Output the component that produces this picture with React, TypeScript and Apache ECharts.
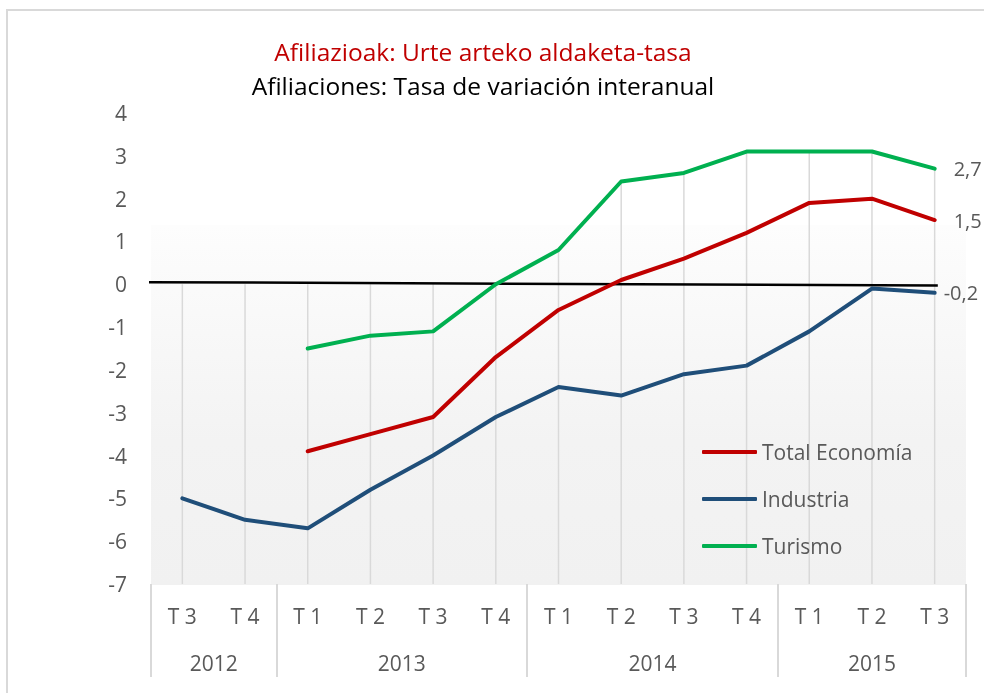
import React, { useEffect, useRef } from "react";
import * as echarts from "echarts";

const quarterLabels = ["T 3", "T 4", "T 1", "T 2", "T 3", "T 4", "T 1", "T 2", "T 3", "T 4", "T 1", "T 2", "T 3"];
const years = ["2012", "2013", "2014", "2015"];
const quartersPerYear = [2, 4, 4, 3];

const totalEconomia: (number | null)[] = [null, null, -3.9, -3.5, -3.1, -1.7, -0.6, 0.1, 0.6, 1.2, 1.9, 2.0, 1.5];
const industria: (number | null)[] = [-5.0, -5.5, -5.7, -4.8, -4.0, -3.1, -2.4, -2.6, -2.1, -1.9, -1.1, -0.1, -0.2];
const turismo: (number | null)[] = [null, null, -1.5, -1.2, -1.1, 0.0, 0.8, 2.4, 2.6, 3.1, 3.1, 3.1, 2.7];
const zeroLine: [number, number][] = [[-0.12, 0.05], [12.55, -0.03]];

const yTicks = { min: -7, max: 4, interval: 1 };

const TXT = "#595959";
const FONT = "'Open Sans', sans-serif";
const FS = 21;

function withLastLabel(values: (number | null)[], distance: number) {
  return values.map((v, i) => {
    if (i !== values.length - 1 || v == null) return v;
    return {
      value: v,
      label: {
        show: true,
        position: "right",
        distance,
        color: TXT,
        fontSize: 20,
        fontFamily: FONT,
        formatter: (p: any) => String(p.value).replace(".", ","),
      },
    };
  });
}

export default function App() {
  const ref = useRef<HTMLDivElement>(null);
  useEffect(() => {
    if (!ref.current) return;
    const chart = echarts.init(ref.current, undefined, { renderer: "svg" });

    const yearCenters: number[] = [];
    const yearBounds: number[] = [0];
    let acc = 0;
    quartersPerYear.forEach((n) => {
      yearCenters.push(acc + n / 2);
      acc += n;
      yearBounds.push(acc);
    });

    const dropData = quarterLabels.map((_, i) => {
      const vals = [0, totalEconomia[i], industria[i], turismo[i]].filter((v) => v != null) as number[];
      return [i, Math.max(...vals)];
    });

    const lineSeries = (name: string, color: string, data: any[]) => ({
      name,
      type: "line",
      data,
      symbol: "circle",
      symbolSize: 0,
      showSymbol: true,
      connectNulls: false,
      z: 5,
      labelLayout: { hideOverlap: false },
      lineStyle: { color, width: 4, cap: "round", join: "round" },
      itemStyle: { color },
    });

    chart.setOption({
      animation: false,
      graphic: [
        {
          type: "rect",
          z: -10,
          shape: { x: 7, y: 10, width: 1000, height: 720 },
          style: { fill: "#ffffff", stroke: "#d9d9d9", lineWidth: 2 },
        },
        {
          type: "rect",
          z: -9,
          shape: { x: 151, y: 225, width: 815, height: 360 },
          style: {
            fill: new echarts.graphic.LinearGradient(0, 0, 0, 1, [
              { offset: 0, color: "#fdfdfd" },
              { offset: 0.6, color: "#f3f3f3" },
              { offset: 1, color: "#f1f1f1" },
            ]),
          },
        },
        {
          type: "text",
          x: 483,
          y: 51,
          style: {
            text: "Afiliazioak: Urte arteko aldaketa-tasa",
            fill: "#c00000",
            font: `24.5px ${FONT}`,
            textAlign: "center",
            textVerticalAlign: "middle",
          },
        },
        {
          type: "text",
          x: 483,
          y: 85,
          style: {
            text: "Afiliaciones: Tasa de variación interanual",
            fill: "#000000",
            font: `24.5px ${FONT}`,
            textAlign: "center",
            textVerticalAlign: "middle",
          },
        },
      ],
      grid: { left: 151, right: 18, top: 113, bottom: 109, containLabel: false },
      legend: {
        data: ["Total Economía", "Industria", "Turismo"],
        orient: "vertical",
        left: 702,
        top: 441,
        padding: 0,
        icon: "roundRect",
        itemWidth: 55,
        itemHeight: 4,
        itemGap: 25,
        textStyle: { color: TXT, fontSize: FS, fontFamily: FONT, lineHeight: 22 },
      },
      xAxis: [
        {
          type: "category",
          data: quarterLabels,
          position: "bottom",
          boundaryGap: true,
          axisLine: { show: false },
          axisTick: { show: false },
          splitLine: { show: false },
          axisLabel: { color: TXT, fontSize: FS, fontFamily: FONT, margin: 21, interval: 0 },
        },
        {
          type: "value",
          min: 0,
          max: quarterLabels.length,
          position: "bottom",
          offset: 0,
          axisLine: { show: false },
          splitLine: { show: false },
          axisTick: {
            show: true,
            customValues: yearBounds,
            length: 93,
            lineStyle: { color: "#d9d9d9", width: 2 },
          },
          axisLabel: {
            show: true,
            customValues: yearCenters,
            margin: 68,
            color: TXT,
            fontSize: FS,
            fontFamily: FONT,
            formatter: (v: number) => {
              const idx = yearCenters.findIndex((c) => Math.abs(c - v) < 1e-6);
              return idx >= 0 ? years[idx] : "";
            },
          },
        },
      ],
      yAxis: {
        type: "value",
        min: yTicks.min,
        max: yTicks.max,
        interval: yTicks.interval,
        axisLine: { show: false },
        axisTick: { show: false },
        splitLine: { show: false },
        axisLabel: { color: TXT, fontSize: FS, fontFamily: FONT, margin: 24 },
      },
      series: [
        {
          type: "custom",
          name: "drop",
          xAxisIndex: 0,
          z: 1,
          silent: true,
          encode: { x: 0, y: 1 },
          data: dropData,
          renderItem: (params: any, api: any) => {
            const i = api.value(0);
            const top = api.value(1);
            const p1 = api.coord([i, top]);
            const p2 = api.coord([i, yTicks.min]);
            return {
              type: "line",
              shape: { x1: p1[0], y1: p1[1], x2: p2[0], y2: p2[1] },
              style: { stroke: "#d9d9d9", lineWidth: 1.5 },
            };
          },
        },
        {
          type: "line",
          name: "zero",
          xAxisIndex: 1,
          data: zeroLine,
          symbol: "none",
          clip: false,
          z: 4,
          lineStyle: { color: "#000000", width: 2.5 },
        },
        lineSeries("Total Economía", "#c00000", withLastLabel(totalEconomia, 19)),
        lineSeries("Industria", "#1f4e79", withLastLabel(industria, 9)),
        lineSeries("Turismo", "#00b050", withLastLabel(turismo, 19)),
      ],
    });
    return () => chart.dispose();
  }, []);
  return <div ref={ref} style={{ position: "fixed", left: 0, top: 0, width: 984, height: 693 }} />;
}
